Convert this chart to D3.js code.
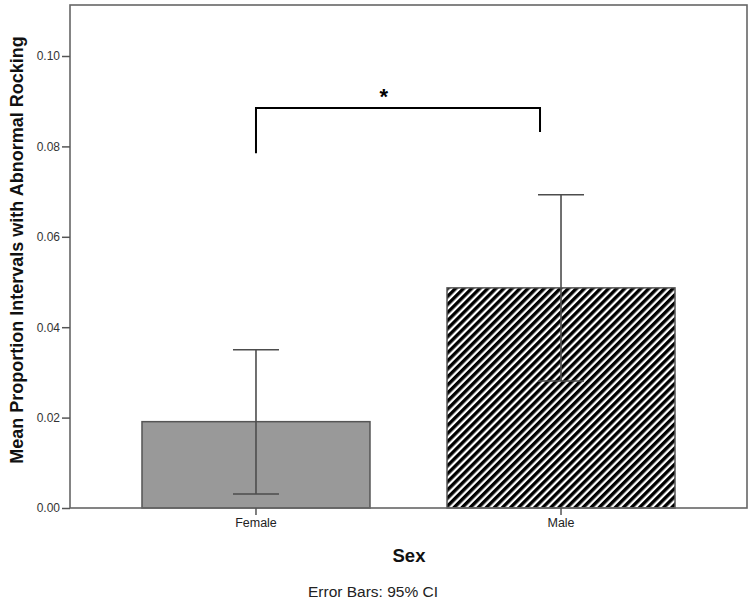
<!DOCTYPE html>
<html>
<head>
<meta charset="utf-8">
<script src="https://cdn.jsdelivr.net/npm/d3@7"></script>
<style>
  html, body { margin: 0; padding: 0; background: #fff; }
  svg { display: block; font-family: Arial, "Liberation Sans", sans-serif; }
</style>
</head>
<body>
<svg id="chart" width="751" height="606"></svg>
<script>
// Mean proportion of intervals with abnormal rocking, by sex, with 95% CI
const categories = ["Female", "Male"];
const means = [0.0191, 0.0487];
const ciLow = [0.0031, 0.0281];
const ciHigh = [0.0350, 0.0693];
const yTicks = [0.00, 0.02, 0.04, 0.06, 0.08, 0.10];

const svg = d3.select("#chart");
const plot = { left: 70, right: 747, top: 5, bottom: 508 };

const x = d3.scaleBand()
  .domain(categories)
  .range([plot.left, plot.right])
  .paddingInner(0.2525)
  .paddingOuter(0.236);

const y = d3.scaleLinear()
  .domain([0, 0.10])
  .range([plot.bottom, 56]);

// Diagonal hatch for the Male bar
const defs = svg.append("defs");
const pat = defs.append("pattern")
  .attr("id", "hatch")
  .attr("patternUnits", "userSpaceOnUse")
  .attr("width", 5.7).attr("height", 5.7)
  .attr("patternTransform", "rotate(45)");
pat.append("rect").attr("width", 5.7).attr("height", 5.7).attr("fill", "#fff");
pat.append("rect").attr("x", 0).attr("width", 3.4).attr("height", 5.7).attr("fill", "#000");

// Bars
svg.selectAll("rect.bar")
  .data(categories)
  .join("rect")
  .attr("class", "bar")
  .attr("x", d => x(d))
  .attr("width", x.bandwidth())
  .attr("y", (d, i) => y(means[i]))
  .attr("height", (d, i) => y(0) - y(means[i]))
  .attr("fill", (d, i) => i === 0 ? "#999999" : "url(#hatch)")
  .attr("stroke", "#555")
  .attr("stroke-width", 1.5);

// Error bars
const cx = d => x(d) + x.bandwidth() / 2;
const capHalf = 23;
const eb = svg.append("g").attr("stroke", "#4d4d4d").attr("stroke-width", 1.6);
categories.forEach((c, i) => {
  eb.append("line").attr("x1", cx(c)).attr("x2", cx(c)).attr("y1", y(ciLow[i])).attr("y2", y(ciHigh[i]));
  eb.append("line").attr("x1", cx(c) - capHalf).attr("x2", cx(c) + capHalf).attr("y1", y(ciHigh[i])).attr("y2", y(ciHigh[i]));
  eb.append("line").attr("x1", cx(c) - capHalf).attr("x2", cx(c) + capHalf).attr("y1", y(ciLow[i])).attr("y2", y(ciLow[i]));
});

// Frame
svg.append("rect")
  .attr("x", plot.left).attr("y", plot.top)
  .attr("width", plot.right - plot.left).attr("height", plot.bottom - plot.top)
  .attr("fill", "none").attr("stroke", "#666").attr("stroke-width", 1.6);

// Y axis
const yAxis = svg.append("g")
  .attr("transform", `translate(${plot.left},0)`)
  .call(d3.axisLeft(y).tickValues(yTicks).tickFormat(d3.format(".2f")).tickSize(8).tickPadding(2));
yAxis.select(".domain").remove();
yAxis.selectAll(".tick line").attr("stroke", "#555").attr("stroke-width", 1.5);
yAxis.selectAll(".tick text").attr("fill", "#333").style("font-size", "12px").style("font-family", "Arial, 'Liberation Sans', sans-serif");

// X axis
const xAxis = svg.append("g")
  .attr("transform", `translate(0,${plot.bottom})`)
  .call(d3.axisBottom(x).tickSize(7).tickPadding(3));
xAxis.select(".domain").remove();
xAxis.selectAll(".tick line").attr("stroke", "#555").attr("stroke-width", 1.5);
xAxis.selectAll(".tick text").attr("fill", "#222").style("font-size", "12.5px").style("font-family", "Arial, 'Liberation Sans', sans-serif");

// Significance bracket: from the Female bar centre to just left of the Male bar centre
const bx1 = cx("Female"), bx2 = cx("Male") - 21;
const byTop = y(0.0885), byL = y(0.0785), byR = y(0.0832);
svg.append("path")
  .attr("d", `M${bx1},${byL}V${byTop}H${bx2}V${byR}`)
  .attr("fill", "none").attr("stroke", "#000").attr("stroke-width", 2);
svg.append("text")
  .attr("x", bx1 + (bx2 - bx1) * 0.45).attr("y", byTop - 4)
  .attr("text-anchor", "middle")
  .style("font-size", "22px").style("font-weight", "bold")
  .text("*");

// Axis titles
svg.append("text")
  .attr("transform", `translate(23,250) rotate(-90)`)
  .attr("text-anchor", "middle")
  .style("font-size", "18px").style("font-weight", "bold").attr("fill", "#111")
  .text("Mean Proportion Intervals with Abnormal Rocking");

svg.append("text")
  .attr("x", 409).attr("y", 562)
  .attr("text-anchor", "middle")
  .style("font-size", "18.5px").style("font-weight", "bold").attr("fill", "#111")
  .text("Sex");

svg.append("text")
  .attr("x", 373).attr("y", 597)
  .attr("text-anchor", "middle")
  .style("font-size", "15.5px").attr("fill", "#222")
  .text("Error Bars: 95% CI");
</script>
</body>
</html>
